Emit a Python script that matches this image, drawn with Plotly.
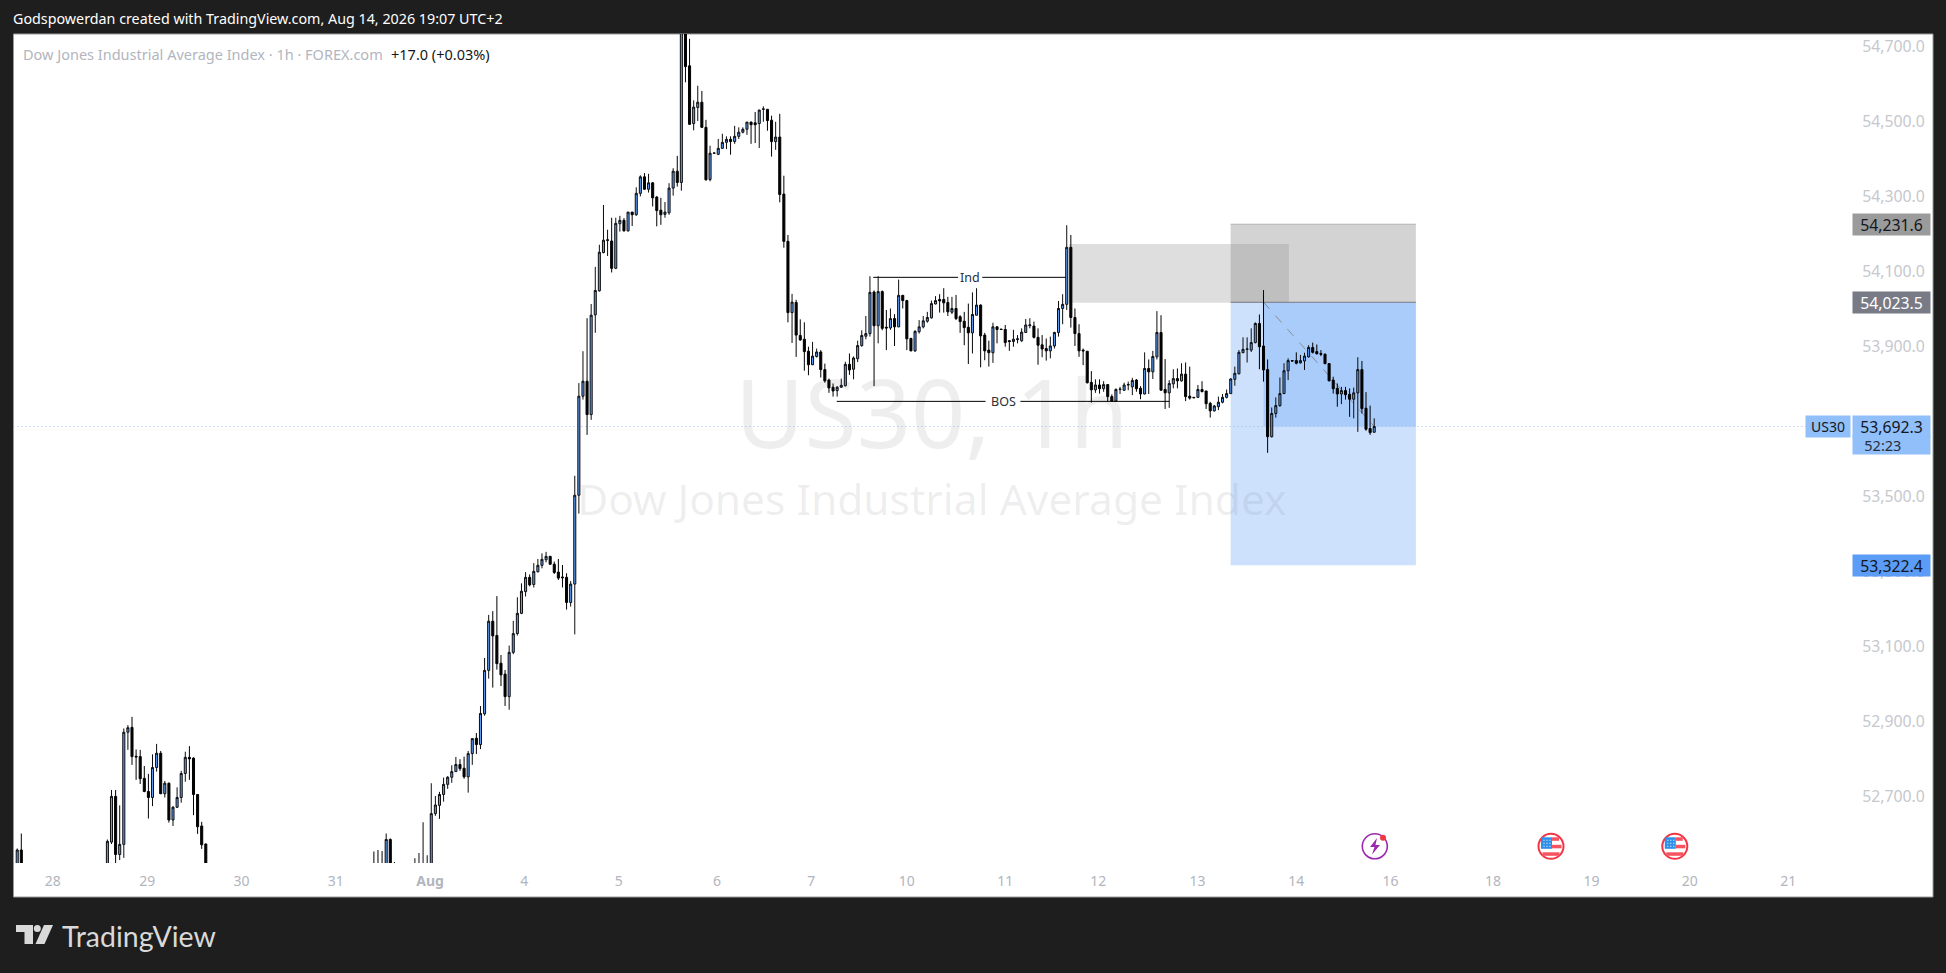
import plotly.graph_objects as go

W, H = 1946, 973

bar_index = [0, 1] + list(range(22, 47)) + list(range(87, 93)) + list(range(97, 332))

opens = [52480,52563,
52450,52584,52706,52551,52578,52877,52890,52813,52812,52754,52719,52703,52783,52821,52713,52741,52643,52677,52703,52767,52810,52808,52711,52627,52579,
52500,52500,52500,52480,52591,52500,
52500,52500,52500,52500,
52500,52660,52682,52711,52738,52757,52772,52791,52781,52758,52820,52861,52844,52926,53042,53173,53135,53061,53032,52972,
53090,53140,53194,53252,53290,53271,53305,53322,53337,53346,53325,53304,53291,53290,53223,53272,53509,53773,53813,53724,
53990,54054,54156,54188,54187,54114,54233,54242,54214,54264,54257,54314,54358,54325,54342,54304,54269,54258,54262,54328,
54373,54343,54780,54654,54500,54543,54557,54490,54351,54421,54418,54434,54450,54458,54452,54466,54477,54485,54504,54502,
54500,54538,54538,54509,54452,54464,54312,54186,53996,54023,53935,53925,53893,53857,53879,53891,53844,53816,53797,53788,
53797,53801,53858,53845,53873,53908,53933,53940,54051,53961,54052,53957,53955,53980,53958,54042,54028,53927,53894,53945,
53958,53973,53982,54019,54031,54031,54023,53997,54007,53985,53973,53957,53942,53989,54016,53936,53896,53889,53958,53952,
53951,53921,53919,53924,53921,53943,53961,53960,53930,53910,53900,53894,53907,53943,54007,54018,54170,53983,53940,53896,
53893,53810,53790,53803,53793,53804,53772,53760,53791,53789,53803,53798,53816,53794,53779,53847,53838,53878,53943,53791,
53782,53806,53820,53814,53832,53773,53770,53770,53791,53787,53754,53734,53745,53757,53770,53780,53818,53833,53889,53898,
53896,53916,53967,53907,53844,53665,53727,53748,53780,53841,53868,53868,53862,53867,53878,53903,53892,53887,53885,53860,
53816,53794,53779,53788,53778,53765,53782,53844,53741,53687,53677]

highs = [52567,52607,
52591,52723,52723,52682,52887,52896,52918,52831,52830,52787,52766,52818,52846,52827,52747,52743,52680,52730,52774,52825,52840,52810,52712,52638,52580,
52559,52563,52560,52607,52594,52531,
52541,52555,52637,52549,
52741,52707,52718,52756,52760,52789,52811,52805,52812,52827,52860,52875,52947,53075,53190,53200,53240,53083,53043,53108,
53174,53237,53274,53304,53298,53328,53339,53354,53358,53347,53332,53339,53323,53301,53280,53561,53808,53893,53981,54019,
54118,54177,54283,54217,54249,54249,54254,54248,54264,54264,54330,54362,54368,54366,54344,54307,54302,54291,54341,54381,
54414,54800,54800,54726,54562,54601,54587,54510,54441,54422,54459,54473,54466,54466,54494,54490,54490,54504,54505,54531,
54537,54546,54539,54521,54505,54526,54361,54203,54046,54030,53978,53970,53905,53918,53900,53896,53860,53820,53807,53800,
53820,53865,53887,53879,53921,53949,53987,54093,54055,54093,54055,54003,54007,53992,54084,54043,54030,53929,53949,53976,
53987,53998,54028,54040,54045,54061,54038,54038,54043,53989,53998,54020,54050,54061,54018,53942,53921,53969,53960,53952,
53963,53923,53950,53936,53954,53979,53981,53972,53954,53936,53927,53932,53945,54027,54045,54229,54203,54007,53965,53900,
53893,53840,53818,53818,53813,53805,53778,53794,53798,53809,53812,53822,53819,53800,53890,53871,53894,54000,53989,53872,
53816,53845,53847,53861,53863,53852,53770,53803,53813,53787,53758,53750,53772,53779,53791,53821,53852,53896,53930,53930,
53954,53970,53991,54056,53871,53743,53770,53823,53861,53874,53869,53890,53883,53889,53909,53916,53911,53896,53887,53861,
53825,53807,53798,53798,53794,53796,53877,53867,53784,53748,53714]

lows = [52460,52460,
52430,52579,52525,52536,52542,52830,52790,52750,52739,52717,52647,52680,52772,52713,52703,52636,52627,52675,52689,52745,52750,52656,52606,52566,52480,
52470,52470,52470,52460,52450,52470,
52480,52480,52480,52480,
52490,52654,52646,52692,52726,52742,52771,52774,52753,52716,52790,52819,52832,52921,53020,52996,53044,53000,52947,52937,
53085,53135,53192,53239,53266,53263,53303,53314,53330,53324,53299,53283,53263,53204,53212,53138,53460,53764,53670,53710,
53942,54052,54154,54147,54103,54112,54212,54212,54212,54227,54254,54306,54323,54316,54279,54226,54230,54249,54257,54308,
54332,54321,54610,54497,54482,54507,54488,54348,54346,54420,54416,54433,54432,54417,54446,54459,54474,54470,54446,54448,
54435,54505,54481,54412,54430,54290,54169,53970,53915,53878,53921,53841,53829,53856,53876,53823,53809,53782,53772,53772,
53795,53799,53830,53818,53864,53905,53925,53932,53800,53914,53949,53896,53950,53907,53957,54007,53896,53893,53891,53940,
53954,53969,53980,54018,53996,53996,53987,53992,53976,53942,53909,53859,53887,53989,53850,53869,53852,53862,53914,53950,
53905,53894,53905,53914,53918,53942,53954,53927,53857,53877,53868,53874,53900,53932,53965,54003,53956,53907,53878,53856,
53807,53756,53782,53780,53785,53758,53758,53758,53779,53787,53789,53776,53785,53765,53778,53779,53819,53871,53788,53739,
53742,53794,53794,53812,53760,53764,53768,53769,53784,53739,53716,53732,53736,53754,53767,53779,53801,53831,53890,53863,
53891,53914,53845,53812,53622,53663,53716,53745,53779,53816,53866,53858,53860,53843,53876,53887,53885,53880,53858,53813,
53780,53745,53752,53764,53718,53714,53678,53727,53681,53670,53676]

closes = [52563,52480,
52586,52706,52551,52578,52877,52889,52812,52811,52753,52719,52703,52783,52821,52713,52741,52643,52677,52703,52767,52810,52806,52711,52625,52577,52500,
52490,52490,52490,52591,52470,52490,
52505,52505,52505,52505,
52660,52683,52711,52738,52757,52772,52791,52780,52758,52820,52860,52844,52927,53042,53173,53134,53060,53030,52972,53090,
53140,53194,53253,53290,53270,53306,53322,53338,53346,53325,53303,53288,53289,53223,53272,53509,53773,53813,53724,53989,
54055,54157,54189,54190,54114,54234,54242,54214,54264,54257,54314,54358,54325,54342,54302,54268,54257,54264,54328,54373,
54343,54780,54652,54498,54544,54557,54490,54350,54421,54421.5,54434,54450,54458,54452,54466,54477,54485,54504,54497,54497,
54536,54539,54508,54452,54464,54311,54186,53996,54024,53936,53923,53892,53857,53880,53891,53844,53814,53795,53787,53797,
53802,53858,53843,53875,53908,53935,53940,54050,53961,54052,53954,53955,53980,53958,54042,54028,53926,53894,53946,53958,
53974,53983,54020,54028,54027,54022,53998,54007,53980,53972,53956,53942,53991,54016,53934,53894,53889,53958,53951,53951,
53916,53919,53925,53926,53944,53963,53963,53930,53909,53899,53894,53907,53943,54007,54018,54170,53983,53940,53894,53894,
53809,53790,53803,53793,53804,53772,53760,53791,53792,53803,53804,53815,53793,53779,53847,53838,53879,53943,53789,53782,
53807,53820,53814,53832,53772,53768,53769,53791,53785,53753,53734,53747,53757,53770,53780,53819,53834,53890,53898,53899,
53916,53967,53905,53843,53665,53727,53748,53780,53841,53868,53867,53861,53868,53880,53903,53890,53886,53885,53860,53814,
53793,53779,53788,53777,53765,53782,53844,53740,53685,53676,53692.3]

tick_index = [8.7, 31.7, 54.7, 77.7, 100.7, 123.7, 146.7, 170.7, 193.7, 217, 241, 263.7, 287.9, 312, 335, 360, 384, 408, 432]
tick_labels = ["28", "29", "30", "31", "<b>Aug</b>", "4", "5", "6", "7", "10", "11", "12", "13", "14", "16", "18", "19", "20", "21"]
price_ticks = [54700, 54500, 54300, 54100, 53900, 53500, 53300, 53100, 52900, 52700]
LABEL_LIFT = 5

stop_price = 54231.6
entry_price = 54023.5
target_price = 53322.4
last_price = 53692.3
ob_top, ob_bottom = 54179, 54022
ind_price, bos_price = 54090, 53759.3

X_RANGE = [-0.93, 447.3]
Y_RANGE = [52528.3, 54738.9]

def fx(p): return p / W
def fy(p): return 1 - p / H

FONT = "Noto Sans"
fig = go.Figure()

fig.add_trace(go.Scatter(x=[223.1], y=[53699], mode="text",
    text=["US30, 1h"], textposition="middle center", hoverinfo="skip", showlegend=False,
    textfont=dict(family=FONT, size=95, color="rgba(120,123,134,0.13)")))
fig.add_trace(go.Scatter(x=[223.1], y=[53484], mode="text",
    text=["Dow Jones Industrial Average Index"], textposition="middle center", hoverinfo="skip", showlegend=False,
    textfont=dict(family=FONT, size=42.5, color="rgba(120,123,134,0.13)")))
fig.add_trace(go.Scatter(x=[-0.93, 436.5], y=[last_price, last_price], mode="lines", hoverinfo="skip", showlegend=False,
    line=dict(color="#90bff9", width=1, dash="1px,3px")))
fig.add_trace(go.Scatter(x=[304, 331], y=[entry_price, last_price], mode="lines", hoverinfo="skip", showlegend=False,
    line=dict(color="#8a8c94", width=1, dash="dash")))

fig.add_trace(go.Candlestick(x=bar_index, open=opens, high=highs, low=lows, close=closes,
    xaxis="x2", yaxis="y2", showlegend=False,
    increasing=dict(line=dict(color="#0d0d0d", width=1), fillcolor="#5b9cf6"),
    decreasing=dict(line=dict(color="#000000", width=1), fillcolor="#000000"),
    whiskerwidth=0))

fig.add_trace(go.Scatter(
    x=[208.8, 229.5, None, 235.4, 255.8, None, 199.9, 236.2, None, 244.7, 281],
    y=[ind_price, ind_price, None, ind_price, ind_price, None, bos_price, bos_price, None, bos_price, bos_price],
    mode="lines", xaxis="x2", yaxis="y2", hoverinfo="skip", showlegend=False,
    line=dict(color="#000000", width=1)))

LBL = "#c6c8ce"
axis_common = dict(showgrid=False, zeroline=False, showline=False)
fig.update_layout(
    width=W, height=H, autosize=False,
    margin=dict(l=0, r=0, t=0, b=0, pad=0),
    paper_bgcolor="#1e1e1e", plot_bgcolor="rgba(0,0,0,0)",
    boxgap=0.5, boxgroupgap=0, showlegend=False,
    xaxis=dict(domain=[fx(13.4), fx(1851)], range=X_RANGE, tickmode="array", tickvals=tick_index, ticktext=tick_labels,
               ticks="outside", ticklen=5, tickcolor="rgba(0,0,0,0)",
               tickfont=dict(family=FONT, size=14, color="#b2b5be"), **axis_common),
    yaxis=dict(domain=[fy(863), fy(34)], range=Y_RANGE, side="right", tickmode="array",
               tickvals=[v + LABEL_LIFT for v in price_ticks],
               ticktext=[f"{v:,.1f}" for v in price_ticks],
               ticks="outside", ticklen=7, tickcolor="rgba(0,0,0,0)",
               tickfont=dict(family=FONT, size=15.8, color=LBL), **axis_common),
    xaxis2=dict(overlaying="x", range=X_RANGE, visible=False, rangeslider=dict(visible=False), anchor="y2"),
    yaxis2=dict(overlaying="y", range=Y_RANGE, visible=False, anchor="x2"),
)

zone_left = (1230.7 - 17.2) / 4.1
zone_right = (1416 - 17.2) / 4.1
shapes = [
    dict(type="rect", xref="paper", yref="paper", x0=fx(13.5), x1=fx(1933), y0=fy(897), y1=fy(34),
         fillcolor="#ffffff", line=dict(color="#9a9a9a", width=1), layer="below"),
    dict(type="rect", xref="x", yref="y", x0=304, x1=zone_right, y0=entry_price, y1=last_price,
         fillcolor="rgba(91,156,246,0.3)", line=dict(width=0), layer="below"),
    dict(type="rect", xref="x", yref="y", x0=zone_left, x1=zone_right, y0=target_price, y1=entry_price,
         fillcolor="rgba(91,156,246,0.3)", line=dict(width=0), layer="below"),
    dict(type="rect", xref="x", yref="y", x0=zone_left, x1=zone_right, y0=entry_price, y1=stop_price,
         fillcolor="rgba(145,145,145,0.4)", line=dict(width=0), layer="below"),
    dict(type="rect", xref="x", yref="y", x0=256.5, x1=(1289 - 17.2) / 4.1, y0=ob_bottom, y1=ob_top,
         fillcolor="rgba(150,150,150,0.31)", line=dict(width=0), layer="below"),
    dict(type="line", xref="x", yref="y", x0=zone_left, x1=zone_right, y0=entry_price, y1=entry_price,
         line=dict(color="#787b86", width=1), layer="below"),
    dict(type="line", xref="x", yref="y", x0=zone_left, x1=zone_right, y0=stop_price, y1=stop_price,
         line=dict(color="#b4b4b4", width=1), layer="below"),
]

LOGO = "#d9d9d9"
def pth(points):
    return "M" + " L".join(f"{fx(a):.5f},{fy(b):.5f}" for a, b in points) + " Z"

def paper_shape(**kw):
    base = dict(xref="paper", yref="paper", layer="above")
    base.update(kw)
    return base

shapes += [
    paper_shape(type="path", path=pth([(16, 925), (33, 925), (33, 944), (24.5, 944), (24.5, 932), (16, 932)]), fillcolor=LOGO, line=dict(width=0)),
    paper_shape(type="circle", x0=fx(33.8), x1=fx(40.8), y0=fy(932), y1=fy(925), fillcolor=LOGO, line=dict(width=0)),
    paper_shape(type="path", path=pth([(44, 925), (53, 925), (44.5, 944), (35.5, 944)]), fillcolor=LOGO, line=dict(width=0)),
]

def ring(cx, cy, r, color, width=1.6, fill="#ffffff"):
    return paper_shape(type="circle", x0=fx(cx - r), x1=fx(cx + r), y0=fy(cy + r), y1=fy(cy - r),
                       fillcolor=fill, line=dict(color=color, width=width))

shapes += [
    ring(1374.8, 846.3, 12.5, "#9c27b0"),
    paper_shape(type="path", path=pth([(1377, 838), (1370, 847), (1374.5, 847), (1372, 854.5), (1380, 845), (1375.5, 845)]),
                fillcolor="#9c27b0", line=dict(width=0)),
    ring(1383, 837.8, 3, "#f23645", width=0, fill="#f23645"),
]
for cx in (1551, 1674.8):
    cy = 846.3
    shapes += [
        ring(cx, cy, 12.5, "#f23645", width=2),
        paper_shape(type="rect", x0=fx(cx + 1), x1=fx(cx + 8), y0=fy(cy - 5.5), y1=fy(cy - 9), fillcolor="#f7525f", line=dict(width=0)),
        paper_shape(type="rect", x0=fx(cx + 1), x1=fx(cx + 10.5), y0=fy(cy + 2), y1=fy(cy - 1.5), fillcolor="#f7525f", line=dict(width=0)),
        paper_shape(type="rect", x0=fx(cx - 8.5), x1=fx(cx + 8.5), y0=fy(cy + 9.5), y1=fy(cy + 6), fillcolor="#f7525f", line=dict(width=0)),
        paper_shape(type="rect", x0=fx(cx - 10), x1=fx(cx + 1), y0=fy(cy + 2.5), y1=fy(cy - 9), fillcolor="#2e8fe8", line=dict(width=0)),
    ]
    for dx in (-7.5, -4.5, -1.5):
        for dy in (-6.5, -3.5, -0.5):
            shapes.append(paper_shape(type="rect", x0=fx(cx + dx), x1=fx(cx + dx + 1), y0=fy(cy + dy + 1), y1=fy(cy + dy),
                                      fillcolor="#ffffff", line=dict(width=0)))
fig.update_layout(shapes=shapes)

def note(px, py, text, size, color, anchor="left", **kw):
    return dict(xref="paper", yref="paper", x=fx(px), y=fy(py), text=text, showarrow=False, xanchor=anchor, yanchor="middle",
                font=dict(family=kw.pop("family", FONT), size=size, color=color), **kw)

def price_box(value, fill, color, text=None):
    return dict(xref="paper", yref="y", x=fx(1852), y=value, xanchor="left", yanchor="middle", showarrow=False,
                text=text or f"{value:,.1f}", width=77, height=21, bgcolor=fill, borderpad=0,
                font=dict(family=FONT, size=15.8, color=color))

annotations = [
    note(11, 19, "Godspowerdan created with TradingView.com, Aug 14, 2026 19:07 UTC+2", 14.3, "#ffffff"),
    note(21, 54, "Dow Jones Industrial Average Index · 1h · FOREX.com", 14.5, "#b2b5be"),
    note(389, 54, "+17.0 (+0.03%)", 14.5, "#131722"),
    note(60, 935.5, "TradingView", 28.5, LOGO, family="Lato"),
    dict(xref="x2", yref="y2", x=232.5, y=ind_price, text="Ind", showarrow=False, font=dict(family=FONT, size=12.5, color="#2a2e39")),
    dict(xref="x2", yref="y2", x=240.5, y=bos_price, text="BOS", showarrow=False, font=dict(family=FONT, size=12.5, color="#2a2e39")),
    price_box(stop_price, "#9b9b9b", "#131722"),
    price_box(entry_price, "#787b86", "#ffffff"),
    price_box(target_price, "#5b9cf6", "#131722"),
    dict(xref="paper", yref="y", x=fx(1852), y=last_price, xanchor="left", yanchor="middle", yshift=-19, showarrow=False,
         text="&nbsp;&nbsp;&nbsp;52:23", width=77, height=18, align="left", bgcolor="#90bff9", borderpad=0,
         font=dict(family=FONT, size=14.5, color="#2a2e39")),
    price_box(last_price, "#90bff9", "#131722"),
    dict(xref="paper", yref="y", x=fx(1851), y=last_price, xanchor="right", yanchor="middle", showarrow=False,
         text="US30", width=44, height=21, bgcolor="#90bff9", borderpad=0,
         font=dict(family=FONT, size=14, color="#131722")),
]
fig.update_layout(annotations=annotations)

fig.write_html("out.html", config=dict(displayModeBar=False),
               post_script="document.body.style.margin='0';document.body.style.background='#1e1e1e';document.body.style.overflow='hidden';")

assert len(bar_index) == len(opens) == len(highs) == len(lows) == len(closes), (len(bar_index), len(opens), len(highs), len(lows), len(closes))
